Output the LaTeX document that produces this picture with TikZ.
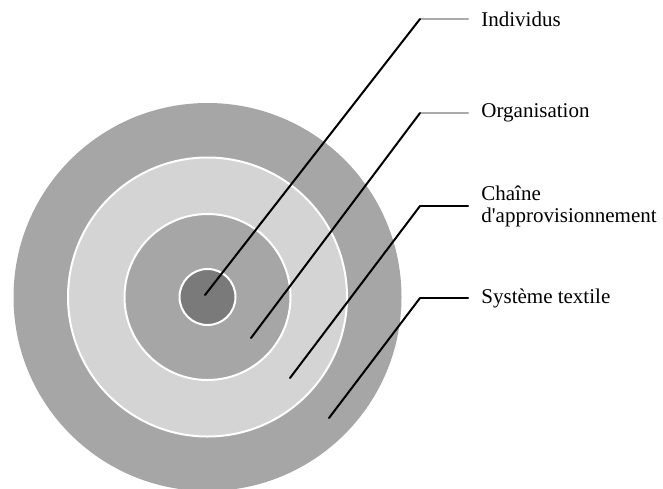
\documentclass[tikz,border=0pt]{standalone}
\usepackage{fontspec}
\setmainfont{Liberation Serif}
\usepackage{xcolor}
\usetikzlibrary{positioning}

\definecolor{ringdark}{RGB}{166,166,166}
\definecolor{ringlight}{RGB}{212,212,212}
\definecolor{ringcore}{RGB}{122,122,122}
\definecolor{leadgray}{RGB}{170,170,170}
\newcommand{\straightquote}{\XeTeXglyph\XeTeXglyphindex"quotesingle"\relax}

\begin{document}
\begin{tikzpicture}[x=0.5pt, y=0.5pt,
    ring/.style={draw=white, line width=1pt},
    leader/.style={line width=1pt, line cap=round},
    tag/.style={anchor=west, inner xsep=6.5pt, inner ysep=0pt, align=left,
      font=\fontsize{10.5pt}{11pt}\selectfont}]
    \useasboundingbox (0,0) rectangle (663,-488);

    % Rings
    \fill[ringdark] (207.5,-297) circle (194);
    \filldraw[ring, fill=ringlight] (207.5,-297) circle (139.5);
    \filldraw[ring, fill=ringdark] (207.5,-297) circle (83);
    \filldraw[ring, fill=ringcore] (207.5,-297) circle (28);

    % Labels
    \node[tag] (ind) at (468,-19) {Individus};
    \node[tag] (org) at (468,-113) {Organisation};
    \node[tag] (chain) at (468,-206) {Chaîne\\d\straightquote approvisionnement};
    \node[tag] (sys) at (468,-298) {Système textile};

    % Leader points
    \coordinate (ind-p) at (205,-295);
    \coordinate (ind-k) at (420,-19);
    \coordinate (org-p) at (251,-338);
    \coordinate (org-k) at (420,-113);
    \coordinate (chain-p) at (290,-378);
    \coordinate (chain-k) at (420,-206);
    \coordinate (sys-p) at (329,-418);
    \coordinate (sys-k) at (420,-298);

    % Leaders
    \draw[leader, leadgray] (ind-k) -- (ind.west);
    \draw[leader, leadgray] (org-k) -- (org.west);
    \draw[leader] (chain-k) -- (chain.west);
    \draw[leader] (sys-k) -- (sys.west);
    \draw[leader] (ind-p) -- (ind-k);
    \draw[leader] (org-p) -- (org-k);
    \draw[leader] (chain-p) -- (chain-k);
    \draw[leader] (sys-p) -- (sys-k);
\end{tikzpicture}
\end{document}
